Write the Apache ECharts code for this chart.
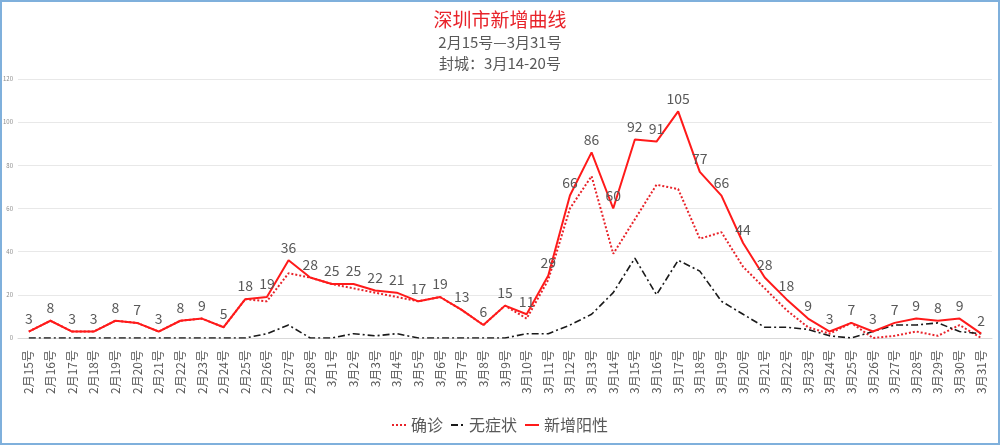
<!DOCTYPE html>
<html>
<head>
<meta charset="utf-8">
<script src="https://cdn.jsdelivr.net/npm/echarts@6/dist/echarts.min.js"></script>
<style>
html,body{margin:0;padding:0;background:#fff;}
#c{width:1000px;height:446px;}
#frame{position:absolute;left:0;top:0;width:996px;height:441px;border:2px solid #7fb0dc;pointer-events:none;}
</style>
</head>
<body>
<div id="c"></div>
<div id="frame"></div>
<script>
const categories = ['2月15号','2月16号','2月17号','2月18号','2月19号','2月20号','2月21号','2月22号','2月23号','2月24号','2月25号','2月26号','2月27号','2月28号',
'3月1号','3月2号','3月3号','3月4号','3月5号','3月6号','3月7号','3月8号','3月9号','3月10号','3月11号','3月12号','3月13号','3月14号','3月15号','3月16号',
'3月17号','3月18号','3月19号','3月20号','3月21号','3月22号','3月23号','3月24号','3月25号','3月26号','3月27号','3月28号','3月29号','3月30号','3月31号'];
const totalPositive = [3,8,3,3,8,7,3,8,9,5,18,19,36,28,25,25,22,21,17,19,13,6,15,11,29,66,86,60,92,91,105,77,66,44,28,18,9,3,7,3,7,9,8,9,2];
const confirmed = [3,8,3,3,8,7,3,8,9,5,18,17,30,28,25,23,21,19,17,19,13,6,15,9,27,60,75,39,55,71,69,46,49,33,23,13,5,2,7,0,1,3,1,6,0];
const asymptomatic = [0,0,0,0,0,0,0,0,0,0,0,2,6,0,0,2,1,2,0,0,0,0,0,2,2,6,11,21,37,20,36,31,17,11,5,5,4,1,0,3,6,6,7,3,2];
const yTicks = [0,20,40,60,80,100,120];

const font = '"Noto Sans CJK SC", "Microsoft YaHei", sans-serif';
const chart = echarts.init(document.getElementById('c'));
chart.setOption({
  animation:false,
  textStyle:{fontFamily:font},
  title:[
    {text:'深圳市新增曲线', left:'center', top:5, textStyle:{color:'#e8232a', fontSize:19, fontWeight:'normal', fontFamily:font}},
    {text:'2月15号—3月31号', left:'center', top:30, textStyle:{color:'#595959', fontSize:15, fontWeight:'normal', fontFamily:font}},
    {text:'封城：3月14-20号', left:'center', top:51, textStyle:{color:'#595959', fontSize:15, fontWeight:'normal', fontFamily:font}}
  ],
  legend:{
    bottom:8, left:'center', itemWidth:14, itemHeight:2, itemGap:8,
    textStyle:{color:'#595959', fontSize:16, fontFamily:font},
    data:[
      {name:'确诊', icon:'path://M0,0h2v2h-2zM4,0h2v2h-2zM8,0h2v2h-2zM12,0h2v2h-2z', itemStyle:{color:'#e8232a'}},
      {name:'无症状', icon:'path://M0,0h7v2h-7zM10,0h2v2h-2z', itemStyle:{color:'#1a1a1a'}},
      {name:'新增阳性', icon:'path://M0,0h14v2h-14z', itemStyle:{color:'#ff1a1a'}}
    ]
  },
  grid:{left:17, right:8, top:79, bottom:108, containLabel:false},
  xAxis:{
    type:'category', data:categories, boundaryGap:true,
    axisLine:{lineStyle:{color:'#d9d9d9'}},
    axisTick:{show:false},
    axisLabel:{rotate:90, interval:0, color:'#595959', fontSize:12, margin:12, fontFamily:font}
  },
  yAxis:{
    type:'value', min:yTicks[0], max:yTicks[yTicks.length-1], interval:20,
    axisLine:{show:false}, axisTick:{show:false},
    axisLabel:{color:'#8c8c8c', fontSize:6, margin:5},
    splitLine:{lineStyle:{color:'#e8e8e8'}}
  },
  series:[
    {name:'确诊', type:'line', data:confirmed, symbol:'none', z:2,
     lineStyle:{color:'#e8232a', width:2, type:[2,2]}, itemStyle:{color:'#e8232a'}},
    {name:'无症状', type:'line', data:asymptomatic, symbol:'none', z:2,
     lineStyle:{color:'#1a1a1a', width:1.6, type:[7,3,2,3]}, itemStyle:{color:'#1a1a1a'}},
    {name:'新增阳性', type:'line', data:totalPositive, symbol:'circle', symbolSize:0.1, showSymbol:true, z:3,
     lineStyle:{color:'#ff1a1a', width:2}, itemStyle:{color:'#ff1a1a'},
     label:{show:true, position:'top', distance:6, color:'#595959', fontSize:14, fontFamily:font}}
  ]
});
</script>
</body>
</html>
